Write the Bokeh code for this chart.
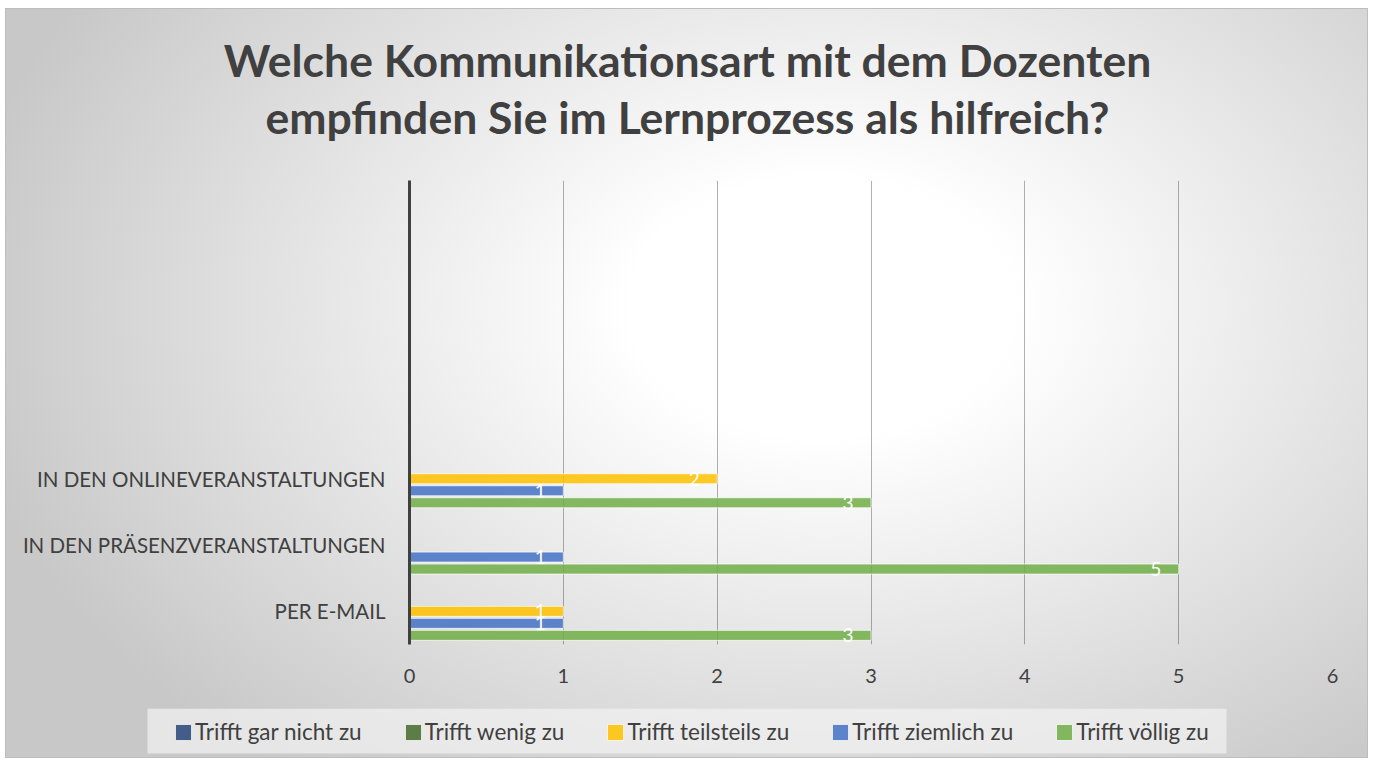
from bokeh.plotting import figure
from bokeh.models import (Range1d, FixedTicker, Label, Legend, LegendItem, BoxAnnotation,
                          ColumnDataSource, CDSView, BooleanFilter)
from bokeh.transform import dodge
from bokeh.core.properties import value
from bokeh.embed import file_html
from bokeh.resources import INLINE

# ---------------- data ----------------
title_lines = ["Welche Kommunikationsart mit dem Dozenten",
               "empfinden Sie im Lernprozess als hilfreich?"]
categories = ["PER E-MAIL", "IN DEN PRÄSENZVERANSTALTUNGEN", "IN DEN ONLINEVERANSTALTUNGEN"]
category_slots = 7  # the category axis holds 7 slots; the upper four are empty
series_names = ["Trifft gar nicht zu", "Trifft wenig zu", "Trifft teilsteils zu",
                "Trifft ziemlich zu", "Trifft völlig zu"]
gar_nicht = [0, 0, 0]
wenig = [0, 0, 0]
teilsteils = [1, 0, 2]
ziemlich = [1, 1, 1]
voellig = [3, 5, 3]
x_ticks = [0, 1, 2, 3, 4, 5, 6]

series_values = [gar_nicht, wenig, teilsteils, ziemlich, voellig]
colors = ["#264478", "#43682B", "#FFC000", "#4472C4", "#70AD47"]

FONT = "Lato"
TEXT = "#404040"

W = 1363
H_TITLE = 172          # title strip
H_MAIN = 528           # chart (frame + x axis)
H_LEG = 50             # legend strip
H_ALL = H_TITLE + H_MAIN + H_LEG
FL, FR = 404, 1327     # frame edges inside the chart figure
FB = 464               # frame height
GRAD = "radial-gradient(ellipse 64% 78% at 60% 40%, #ffffff 22%, #c8c8c8 100%)"
EDGE = "#bdbdbd"


def strip_styles(top, shadow, extra=None):
    s = {"margin-left": "5px",
         "background": f"{GRAD} 0px -{top}px / {W}px {H_ALL}px no-repeat",
         "box-shadow": shadow}
    if extra:
        s.update(extra)
    return s


# ---------------- title strip ----------------
tf = figure(width=W, height=H_TITLE, output_backend="svg", toolbar_location=None, title=None,
            x_axis_type=None, y_axis_type=None, x_range=Range1d(0, W), y_range=Range1d(0, H_TITLE),
            min_border_left=0, min_border_right=0, min_border_top=0, min_border_bottom=0,
            styles=strip_styles(0, f"inset 1px 1px 0 {EDGE}, inset -1px 0 0 {EDGE}",
                                {"margin-top": "8px"}))
tf.border_fill_alpha = 0
tf.background_fill_alpha = 0
tf.outline_line_color = None
tf.grid.visible = False
for i, line in enumerate(title_lines):
    tf.add_layout(Label(x=682, y=H_TITLE - 51 - 57 * i, text=line, text_align="center",
                        text_baseline="alphabetic", text_font=FONT, text_font_style="bold",
                        text_font_size="44.5px", text_color=TEXT))

# ---------------- chart ----------------
p = figure(width=W, height=H_MAIN, output_backend="svg", toolbar_location=None, title=None,
           x_range=Range1d(0, 6), y_range=Range1d(0, category_slots),
           min_border_left=FL, min_border_right=W - FR, min_border_top=0,
           min_border_bottom=H_MAIN - FB,
           styles=strip_styles(H_TITLE, f"inset 1px 0 0 {EDGE}, inset -1px 0 0 {EDGE}"))
p.border_fill_alpha = 0
p.background_fill_alpha = 0
p.outline_line_color = None

cat_pos = [i + 0.5 for i in range(len(categories))]

pitch = 0.181
bar_h = 0.151
sources = []
for k, (vals, col) in enumerate(zip(series_values, colors)):
    off = (2 - k) * pitch
    src = ColumnDataSource(dict(y=cat_pos, v=vals, lbl=[str(v) for v in vals]))
    sources.append(src)
    view = CDSView(filter=BooleanFilter([v > 0 for v in vals]))
    p.hbar(y=dodge("y", off), left=0, right="v", height=bar_h, source=src, view=view,
           fill_color=col, fill_alpha=0.85, line_color="white", line_alpha=0.7,
           line_width=1)
    p.text(x="v", y=dodge("y", off), text="lbl", source=src, view=view,
           x_offset=-23, text_align="center", text_baseline="middle",
           text_color="white", text_font=value(FONT), text_font_size="19px")

p.xaxis.ticker = FixedTicker(ticks=x_ticks)
p.xaxis.axis_line_color = None
p.xaxis.major_tick_line_color = None
p.xaxis.minor_tick_line_color = None
p.xaxis.major_label_standoff = 18
p.xaxis.major_label_text_font = FONT
p.xaxis.major_label_text_font_size = "20px"
p.xaxis.major_label_text_color = TEXT

p.yaxis.ticker = FixedTicker(ticks=cat_pos)
p.yaxis.major_label_overrides = {pos: name for pos, name in zip(cat_pos, categories)}
p.yaxis.axis_line_color = TEXT
p.yaxis.axis_line_width = 3
p.yaxis.major_tick_line_color = None
p.yaxis.minor_tick_line_color = None
p.yaxis.major_label_standoff = 18
p.yaxis.major_label_text_font = FONT
p.yaxis.major_label_text_font_size = "20.5px"
p.yaxis.major_label_text_color = TEXT

p.ygrid.grid_line_color = None
p.xgrid.grid_line_color = "black"
p.xgrid.grid_line_alpha = 0.3

# ---------------- legend strip ----------------
lg = figure(width=W, height=H_LEG, output_backend="svg", toolbar_location=None, title=None,
            x_axis_type=None, y_axis_type=None, x_range=Range1d(0, W), y_range=Range1d(0, H_LEG),
            min_border_left=0, min_border_right=0, min_border_top=0, min_border_bottom=0,
            styles=strip_styles(H_TITLE + H_MAIN,
                                f"inset 1px 0 0 {EDGE}, inset -1px -1px 0 {EDGE}"))
lg.border_fill_alpha = 0
lg.background_fill_alpha = 0
lg.outline_line_color = None
lg.grid.visible = False
lg.add_layout(BoxAnnotation(left=142, right=1221, bottom=5, top=H_LEG,
                            fill_color="#f2f2f2", fill_alpha=0.7, line_color=None))
leg_renderers = []
for src, col in zip(sources, colors):
    leg_renderers.append(lg.hbar(y="y", left=0, right="v", height=0.5, source=src,
                                 fill_color=col, fill_alpha=0.85, line_color="white",
                                 line_alpha=0.7, visible=False))
legend = Legend(items=[LegendItem(label=n, renderers=[r]) for n, r in zip(series_names, leg_renderers)],
                orientation="horizontal", location=(168, 13),
                glyph_width=20, glyph_height=20, label_standoff=2, spacing=41,
                padding=10, margin=0, label_text_font=FONT, label_text_font_size="22.5px",
                label_text_color=TEXT, background_fill_alpha=0, border_line_color=None,
                inactive_fill_alpha=0)
lg.add_layout(legend)

open("out.html", "w").write(file_html([tf, p, lg], INLINE))
